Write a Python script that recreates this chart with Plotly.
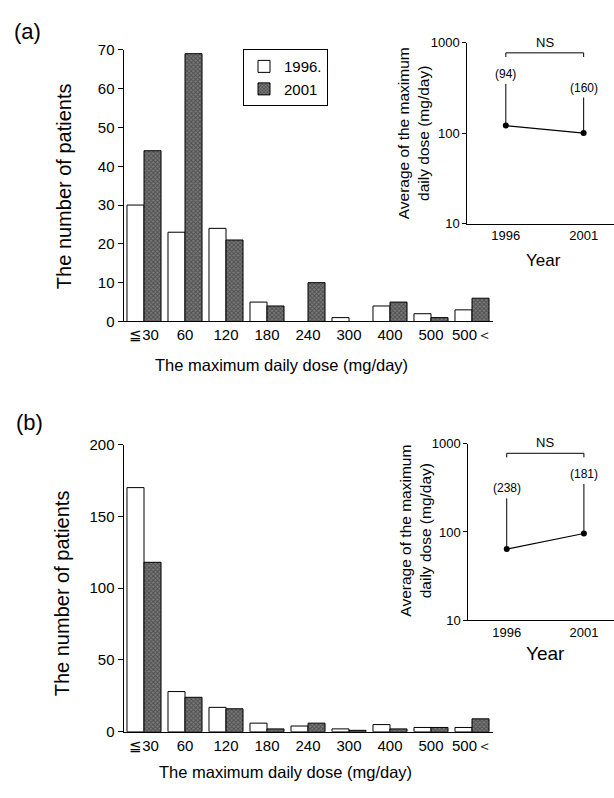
import math
import plotly.graph_objects as go

# ---------------- data ----------------
categories = ["≦30", "60", "120", "180", "240", "300", "400", "500", "500＜"]
a_1996 = [30, 23, 24, 5, 0, 1, 4, 2, 3]
a_2001 = [44, 69, 21, 4, 10, 0, 5, 1, 6]
b_1996 = [170, 28, 17, 6, 4, 2, 5, 3, 3]
b_2001 = [118, 24, 16, 2, 6, 1, 2, 3, 9]

years = ["1996", "2001"]
a_mean = [121, 100]
a_upper = [350, 247]
a_n = ["(94)", "(160)"]
b_mean = [64, 96]
b_upper = [240, 349]
b_n = ["(238)", "(181)"]
ns_level_a = 770
ns_level_b = 776

W, H = 614, 798
FONT = "Liberation Sans, Arial, Helvetica, sans-serif"


def px_x(p):
    return p / W


def px_y(p):
    return 1 - p / H


fig = go.Figure()

white_bar = dict(color="white", line=dict(color="black", width=1))
hatch_bar = dict(color="#505050", line=dict(color="black", width=1),
                 pattern=dict(shape="x", fgcolor="#1e1e1e", bgcolor="#7a7a7a",
                              size=3, solidity=0.5))

fig.add_trace(go.Bar(x=categories, y=a_1996, name="1996.", marker=white_bar,
                     xaxis="x", yaxis="y"))
fig.add_trace(go.Bar(x=categories, y=a_2001, name="2001", marker=hatch_bar,
                     xaxis="x", yaxis="y"))
fig.add_trace(go.Bar(x=categories, y=b_1996, name="1996.", marker=white_bar,
                     xaxis="x2", yaxis="y2", showlegend=False))
fig.add_trace(go.Bar(x=categories, y=b_2001, name="2001", marker=hatch_bar,
                     xaxis="x2", yaxis="y2", showlegend=False))


def inset(xa, ya, mean, upper, ns_level):
    fig.add_trace(go.Scatter(
        x=years, y=mean, mode="lines+markers",
        line=dict(color="black", width=1.2),
        marker=dict(color="black", size=6),
        error_y=dict(type="data", symmetric=False,
                     array=[u - m for u, m in zip(upper, mean)],
                     arrayminus=[0, 0], color="black", thickness=1, width=0),
        xaxis=xa, yaxis=ya, showlegend=False))
    fig.add_trace(go.Scatter(
        x=[years[0], years[0], years[1], years[1]],
        y=[ns_level * 0.9, ns_level, ns_level, ns_level * 0.9],
        mode="lines", line=dict(color="black", width=1),
        xaxis=xa, yaxis=ya, showlegend=False))


inset("x3", "y3", a_mean, a_upper, ns_level_a)
inset("x4", "y4", b_mean, b_upper, ns_level_b)

axis_common = dict(showline=True, linecolor="black", linewidth=1,
                   showgrid=False, zeroline=False,
                   tickfont=dict(family=FONT, size=15, color="black"))

main_x_dom = [px_x(123.5), px_x(492.5)]
layout = dict(
    width=W, height=H, autosize=False,
    margin=dict(l=0, r=0, t=0, b=0),
    paper_bgcolor="white", plot_bgcolor="rgba(0,0,0,0)",
    font=dict(family=FONT, color="black"),
    barmode="group", bargap=0.17, bargroupgap=0,
    showlegend=True,
    legend=dict(x=px_x(243), y=px_y(41), xanchor="left", yanchor="top",
                bordercolor="black", borderwidth=1, bgcolor="white",
                font=dict(family=FONT, size=15, color="black"),
                tracegroupgap=0, itemwidth=30),
    xaxis=dict(domain=main_x_dom, anchor="y", ticks="",
               range=[-0.5, 8.5], **axis_common),
    yaxis=dict(domain=[px_y(319.3), px_y(41.7)], anchor="x", range=[0, 70],
               tickvals=[0, 10, 20, 30, 40, 50, 60, 70], ticks="outside",
               ticklen=5, tickcolor="black", **axis_common),
    xaxis2=dict(domain=main_x_dom, anchor="y2", ticks="",
                range=[-0.5, 8.5], **axis_common),
    yaxis2=dict(domain=[px_y(738.5), px_y(445)], anchor="x2", range=[0, 200],
                tickvals=[0, 50, 100, 150, 200], ticks="outside",
                ticklen=5, tickcolor="black", **axis_common),
)

inset_axis = dict(showline=True, linecolor="black", linewidth=1,
                  showgrid=False, zeroline=False,
                  tickfont=dict(family=FONT, size=13, color="black"))
layout.update(
    xaxis3=dict(domain=[px_x(467.3), 1.0], anchor="y3", type="category",
                range=[-0.495, 1.39], ticks="", **inset_axis),
    yaxis3=dict(domain=[px_y(219.3), px_y(34.3)], anchor="x3", type="log",
                range=[1, 3], tickvals=[10, 100, 1000], ticktext=["10", "100", "1000"],
                ticks="outside", ticklen=4, tickcolor="black", **inset_axis),
    xaxis4=dict(domain=[px_x(468.3), 1.0], anchor="y4", type="category",
                range=[-0.498, 1.39], ticks="", **inset_axis),
    yaxis4=dict(domain=[px_y(624.7), px_y(444)], anchor="x4", type="log",
                range=[1, 3], tickvals=[10, 100, 1000], ticktext=["10", "100", "1000"],
                ticks="outside", ticklen=4, tickcolor="black", **inset_axis),
)
fig.update_layout(**layout)

ann = []


def paper_text(text, x, y, size, angle=0, xanchor="center", yanchor="middle"):
    ann.append(dict(text=text, x=px_x(x), y=px_y(y), xref="paper", yref="paper",
                    showarrow=False, textangle=angle, xanchor=xanchor,
                    yanchor=yanchor, font=dict(family=FONT, size=size, color="black")))


paper_text("(a)", 12, 23, 22, xanchor="left")
paper_text("(b)", 14, 423, 22, xanchor="left")
paper_text("The number of patients", 64, 181, 20, angle=-90)
paper_text("The maximum daily dose (mg/day)", 281, 364, 16.5)
paper_text("The number of patients", 62, 597, 20, angle=-90)
paper_text("The maximum daily dose (mg/day)", 285, 780, 16.5)
paper_text("Average of the maximum<br>daily dose (mg/day)", 413, 127, 15.5, angle=-90)
paper_text("Year", 543, 257, 17)
paper_text("Average of the maximum<br>daily dose (mg/day)", 416, 533, 15.5, angle=-90)
paper_text("Year", 545, 659, 19)

for xa, ya, upper, labels, ns in (("x3", "y3", a_upper, a_n, ns_level_a),
                                   ("x4", "y4", b_upper, b_n, ns_level_b)):
    for i, (u, t) in enumerate(zip(upper, labels)):
        ann.append(dict(text=t, x=i, y=math.log10(u), xref=xa, yref=ya,
                        showarrow=False, yanchor="bottom", yshift=1,
                        font=dict(family=FONT, size=12, color="black")))
    ann.append(dict(text="NS", x=0.5, y=math.log10(ns), xref=xa, yref=ya,
                    showarrow=False, yanchor="bottom", yshift=1,
                    font=dict(family=FONT, size=13, color="black")))

fig.update_layout(annotations=ann)

fig.write_html("out.html",
               config={"displayModeBar": False},
               post_script="document.body.style.margin='0';"
                           "document.body.style.overflow='hidden';")
